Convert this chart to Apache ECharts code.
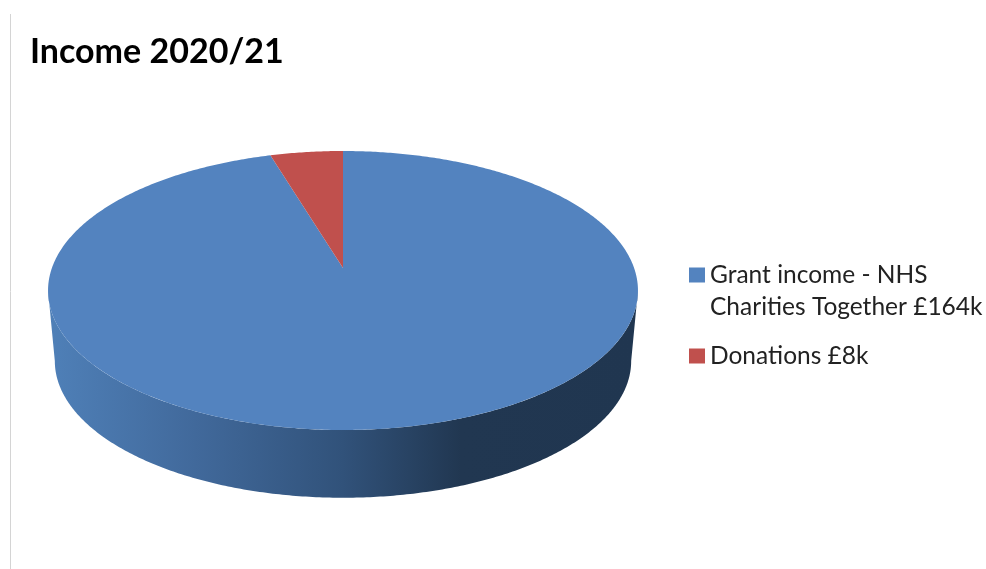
<!DOCTYPE html>
<html>
<head>
<meta charset="utf-8">
<title>Income 2020/21</title>
<script src="https://cdn.jsdelivr.net/npm/echarts@6/dist/echarts.min.js"></script>
<style>
    html, body { margin: 0; padding: 0; background: #fff; }
    #chart { width: 986px; height: 569px; }
</style>
</head>
<body>
<div id="chart"></div>
<script>
var titleText = "Income 2020/21";
var categories = ["Grant income - NHS\nCharities Together £164k", "Donations £8k"];
var incomeValues = [164, 8];
var sliceColors = ["#5383bf", "#c0504d"];

var total = incomeValues.reduce(function (a, b) { return a + b; }, 0);

// the pie is tilted in perspective: the centre of the circle sits above the middle of the ellipse
var centerX = 343, centerY = 268;
var radiusX = 291.1, scaleY = 135.87, tilt = -0.1613;
var wallDepth = 71, wallShrinkX = 0.977, wallShrinkY = 0.98;
var wallFrom = Math.acos(tilt);

function rimPoint(angle) {
    var u = Math.sin(angle), v = -Math.cos(angle);
    var d = 1 + tilt * v;
    return [centerX + radiusX * u / d, centerY + scaleY * v / d];
}

function wallPoint(angle) {
    var p = rimPoint(angle);
    return [centerX + (p[0] - centerX) * wallShrinkX, centerY + (p[1] - centerY) * wallShrinkY + wallDepth];
}

function arcAngles(from, to) {
    var steps = Math.max(2, Math.ceil((to - from) / 0.01));
    var list = [];
    for (var i = 0; i <= steps; i++) {
        list.push(from + (to - from) * i / steps);
    }
    return list;
}

function makeRenderItem(index) {
    var before = incomeValues.slice(0, index).reduce(function (a, b) { return a + b; }, 0);
    return function (params, api) {
        var start = before / total * Math.PI * 2;
        var end = (before + api.value(0)) / total * Math.PI * 2;
        var children = [];

        // side wall, only the part that faces the viewer
        var from = Math.max(start, wallFrom);
        var to = Math.min(end, Math.PI * 2 - wallFrom);
        if (from < to) {
            var angles = arcAngles(from, to);
            var wall = angles.map(rimPoint).concat(angles.slice().reverse().map(wallPoint));
            children.push({
                type: "polygon",
                shape: { points: wall },
                style: {
                    fill: new echarts.graphic.LinearGradient(0, 0, 1, 0, [
                        { offset: 0, color: "#4f80b8" },
                        { offset: 0.25, color: "#41699b" },
                        { offset: 0.5, color: "#31527a" },
                        { offset: 0.7, color: "#213751" },
                        { offset: 1, color: "#203650" }
                    ])
                }
            });
        }

        var top = [[centerX, centerY]].concat(arcAngles(start, end).map(rimPoint));
        children.push({
            type: "polygon",
            shape: { points: top },
            style: { fill: api.visual("color") }
        });
        return { type: "group", children: children };
    };
}

var myChart = echarts.init(document.getElementById("chart"), null, { renderer: "canvas" });

var option = {
    animation: false,
    title: {
        text: titleText,
        left: 25,
        top: 30,
        textStyle: { fontFamily: "Lato", fontWeight: "bold", fontSize: 34, color: "#000" }
    },
    legend: {
        orient: "vertical",
        left: 684,
        top: 222,
        itemWidth: 16,
        itemHeight: 15,
        itemGap: 17,
        icon: "rect",
        data: categories,
        // blank first line keeps the marker level with the first text line
        formatter: function (name) {
            return name.indexOf("\n") >= 0 ? "\n" + name : name;
        },
        textStyle: { fontFamily: "Lato", fontSize: 24.5, lineHeight: 32, color: "#222" },
        selectedMode: false
    },
    graphic: [{
        type: "line",
        shape: { x1: 10.5, y1: 14, x2: 10.5, y2: 569 },
        style: { stroke: "#d4d4d4", lineWidth: 1 }
    }],
    series: categories.map(function (name, i) {
        return {
            name: name,
            type: "custom",
            coordinateSystem: "none",
            itemStyle: { color: sliceColors[i] },
            renderItem: makeRenderItem(i),
            data: [[incomeValues[i]]]
        };
    })
};

myChart.setOption(option);
window.addEventListener("resize", myChart.resize);
</script>
</body>
</html>
